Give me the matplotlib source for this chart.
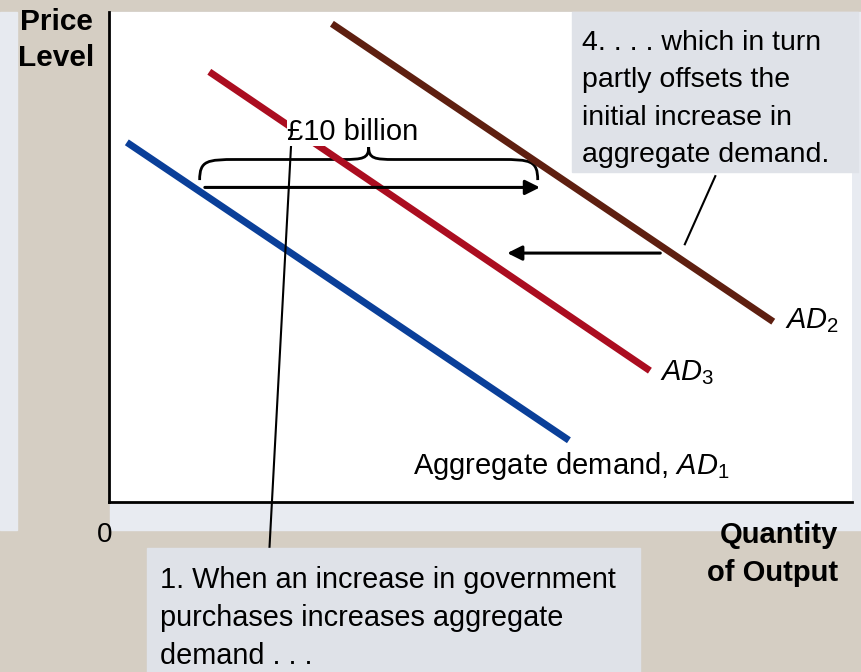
import numpy as np
import matplotlib.pyplot as plt
from matplotlib.patches import Rectangle, PathPatch
from matplotlib.path import Path

plt.rcParams['font.family'] = ['Liberation Sans', 'DejaVu Sans']
plt.rcParams['mathtext.fontset'] = 'custom'
plt.rcParams['mathtext.rm'] = 'Liberation Sans'
plt.rcParams['mathtext.it'] = 'Liberation Sans:italic'

# curve end points (quantity, price) in arbitrary units
ad1_q = [0.24, 6.19]
ad1_p = [7.34, 1.26]
ad3_q = [1.35, 7.28]
ad3_p = [8.78, 2.68]
ad2_q = [3.00, 8.94]
ad2_p = [9.76, 3.68]

# shift arrows and brace
shift_right_q = [1.29, 5.80]
shift_right_p = 6.42
shift_left_q = [7.42, 5.36]
shift_left_p = 5.08
brace_q = [1.22, 5.77]
brace_p = 6.99

W, H = 861, 672
fig = plt.figure(figsize=(W/100, H/100), dpi=100)
fig.patch.set_facecolor('#d5cec3')

def frect(x0, y0, x1, y1, color, z=0):
    # rectangle in figure pixels, y measured from top
    fig.patches.append(Rectangle((x0/W, 1 - y1/H), (x1-x0)/W, (y1-y0)/H,
                                 transform=fig.transFigure, color=color, zorder=z))

frect(0, 12, 17, 530, '#e7eaf0')
frect(110, 12, 861, 530, '#e8ebf1')

ax = fig.add_axes([109/W, 1 - 502/H, 743/W, 490/H])
ax.set_zorder(1)
ax.set_xlim(0, 10)
ax.set_ylim(0, 10)
ax.set_facecolor('white')
for s in ['top', 'right']:
    ax.spines[s].set_visible(False)
for s in ['left', 'bottom']:
    ax.spines[s].set_linewidth(2.0)
ax.set_xticks([])
ax.set_yticks([])

lw = 5
ax.plot(ad1_q, ad1_p, color='#0a3f99', lw=lw, solid_capstyle='butt')
ax.plot(ad3_q, ad3_p, color='#ab0d20', lw=lw, solid_capstyle='butt')
ax.plot(ad2_q, ad2_p, color='#5e1f10', lw=lw, solid_capstyle='butt')

ax.text(4.09, 0.73, 'Aggregate demand, $\\mathit{AD}_{\\mathrm{1}}$', fontsize=21,
        va='center', ha='left')
ax.text(7.42, 2.64, '$\\mathit{AD}_{\\mathrm{3}}$', fontsize=21, va='center', ha='left')
ax.text(9.10, 3.70, '$\\mathit{AD}_{\\mathrm{2}}$', fontsize=21, va='center', ha='left')

# brace
x0, x1 = brace_q
xm = (x0 + x1) / 2
y = brace_p
dx, dy = 0.50, 0.42
verts = [(x0, y - dy), (x0, y - 0.02), (x0 + 0.10, y), (x0 + dx, y),
         (xm - 0.35, y),
         (xm - 0.08, y), (xm, y + 0.02), (xm, y + 0.25),
         (xm, y + 0.02), (xm + 0.08, y), (xm + 0.35, y),
         (x1 - dx, y),
         (x1 - 0.10, y), (x1, y - 0.02), (x1, y - dy)]
codes = [Path.MOVETO, Path.CURVE4, Path.CURVE4, Path.CURVE4, Path.LINETO,
         Path.CURVE4, Path.CURVE4, Path.CURVE4,
         Path.CURVE4, Path.CURVE4, Path.CURVE4, Path.LINETO,
         Path.CURVE4, Path.CURVE4, Path.CURVE4]
ax.add_patch(PathPatch(Path(verts, codes), fill=False, lw=2.0, color='black'))

arrow = dict(arrowstyle='-|>', lw=2.2, color='black', mutation_scale=22,
             shrinkA=0, shrinkB=0)
ax.annotate('', xy=(shift_right_q[1], shift_right_p),
            xytext=(shift_right_q[0], shift_right_p), arrowprops=arrow)
ax.annotate('', xy=(shift_left_q[1], shift_left_p),
            xytext=(shift_left_q[0], shift_left_p), arrowprops=arrow)

# leader lines
ax.plot([2.16, 2.46], [-0.93, 7.55], color='black', lw=1.5, clip_on=False)
ax.plot([8.16, 7.75], [6.65, 5.26], color='black', lw=1.5)

ax.text(2.40, 7.56, '£10 billion', fontsize=21, va='center', ha='left',
        bbox=dict(facecolor='white', edgecolor='none', pad=0.5))

# callout boxes
frect(572, 12, 858, 172, '#dfe2e8', z=2)
frect(147, 548, 640, 672, '#dfe2e8', z=2)
fig.text(582/W, 1 - 30/H, '4. . . . which in turn\npartly offsets the\n'
         'initial increase in\naggregate demand.', fontsize=20.5,
         va='top', ha='left', linespacing=1.57, zorder=3)
fig.text(160/W, 1 - 566/H, '1. When an increase in government\n'
         'purchases increases aggregate\ndemand . . .', fontsize=20.8,
         va='top', ha='left', linespacing=1.45, zorder=3)

# axis labels
fig.text(56/W, 1 - 40/H, 'Price\nLevel', fontsize=21.5, fontweight='bold',
         ha='center', va='center', linespacing=1.38)
fig.text(838/W, 1 - 554/H, 'Quantity\nof Output', fontsize=21, fontweight='bold',
         ha='right', va='center', linespacing=1.45)
fig.text(105/W, 1 - 535/H, '0', fontsize=20, ha='center', va='center')

fig.savefig('out.png', dpi=100, facecolor=fig.get_facecolor())
